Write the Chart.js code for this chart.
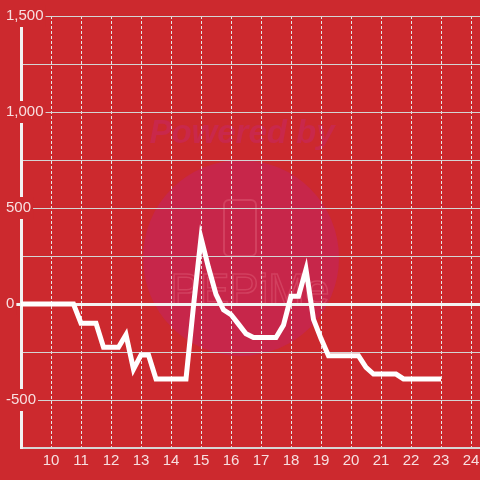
<!DOCTYPE html>
<html>
<head>
<meta charset="utf-8">
<script src="https://cdn.jsdelivr.net/npm/chart.js@4/dist/chart.umd.min.js"></script>
<style>
  html, body { margin: 0; padding: 0; background: #cc292e; }
  #wrap { width: 480px; height: 480px; position: relative; }
</style>
</head>
<body>
<div id="wrap"><canvas id="c"></canvas></div>
<script>
// ---- data ----
const hours = [9, 9.25, 9.5, 9.75, 10, 10.25, 10.5, 10.75, 11, 11.25, 11.5, 11.75,
  12, 12.25, 12.5, 12.75, 13, 13.25, 13.5, 13.75, 14, 14.25, 14.5, 14.75,
  15, 15.25, 15.5, 15.75, 16, 16.25, 16.5, 16.75, 17, 17.25, 17.5, 17.75,
  18, 18.25, 18.5, 18.75, 19, 19.25, 19.5, 19.75, 20, 20.25, 20.5, 20.75,
  21, 21.25, 21.5, 21.75, 22, 22.25, 22.5, 22.75, 23];
const values = [0, 0, 0, 0, 0, 0, 0, 0, -100, -100, -100, -225,
  -225, -225, -160, -340, -265, -265, -390, -390, -390, -390, -390, -10,
  345, 190, 50, -30, -55, -105, -155, -175, -175, -175, -175, -110,
  40, 40, 180, -80, -180, -270, -270, -270, -270, -270, -330, -365,
  -365, -365, -365, -390, -390, -390, -390, -390, -390];
const xTicks = [10, 11, 12, 13, 14, 15, 16, 17, 18, 19, 20, 21, 22, 23, 24];
const yLabelled = [-500, 0, 500, 1000, 1500];
const xMin = 9, xMax = 24.3;
const yMin = -750, yMax = 1500, yStep = 250;

const BG = '#cc292e';
const FONT = "'Liberation Sans', Arial, sans-serif";

const bgPlugin = {
  id: 'bgAndWatermark',
  beforeDraw(chart) {
    const ctx = chart.ctx;
    ctx.save();
    ctx.fillStyle = BG;
    ctx.fillRect(0, 0, chart.width, chart.height);
    // faint watermark
    ctx.fillStyle = '#c7264a';
    ctx.beginPath();
    ctx.arc(241, 258, 98, 0, Math.PI * 2);
    ctx.fill();
    ctx.font = "italic bold 33px " + FONT;
    ctx.fillStyle = '#c9284b';
    ctx.textAlign = 'center';
    ctx.textBaseline = 'alphabetic';
    ctx.fillText('Powered by', 242, 143);
    ctx.strokeStyle = '#d2405f';
    ctx.lineWidth = 2;
    ctx.beginPath();
    if (ctx.roundRect) { ctx.roundRect(224, 200, 32, 56, 5); } else { ctx.rect(224, 200, 32, 56); }
    ctx.stroke();
    ctx.font = "44px " + FONT;
    ctx.lineWidth = 1.5;
    ctx.strokeText('PEPiMe', 250, 305);
    ctx.restore();
  }
};

new Chart(document.getElementById('c'), {
  type: 'line',
  data: {
    datasets: [{
      data: hours.map((h, i) => ({ x: h, y: values[i] })),
      borderColor: '#ffffff',
      borderWidth: 5,
      pointRadius: 0,
      pointHoverRadius: 0,
      tension: 0,
      fill: false
    }]
  },
  options: {
    responsive: true,
    maintainAspectRatio: false,
    animation: false,
    devicePixelRatio: 1,
    layout: { padding: { left: 6, top: 16, right: 0, bottom: 0 } },
    plugins: { legend: { display: false }, tooltip: { enabled: false } },
    scales: {
      x: {
        type: 'linear',
        min: xMin,
        max: xMax,
        afterBuildTicks: (s) => { s.ticks = xTicks.map(v => ({ value: v })); },
        afterFit: (s) => { s.height = 32; s.paddingLeft = 0; s.paddingRight = 0; },
        grid: { color: '#e6e6e6', lineWidth: 1, drawTicks: false },
        border: { display: true, color: '#d6d6d6', width: 2, dash: [3, 2] },
        ticks: {
          color: 'rgba(255,255,255,0.85)',
          font: { family: FONT, size: 15 },
          padding: 4,
          maxRotation: 0,
          autoSkip: false,
          callback: (v) => String(v)
        }
      },
      y: {
        type: 'linear',
        position: 'left',
        min: yMin,
        max: yMax,
        afterFit: (s) => { s.width = 15; s.paddingTop = 0; s.paddingBottom = 0; },
        grid: {
          color: (c) => (c.tick && c.tick.value === 0) ? '#f2f2f2' : '#d4d4d4',
          lineWidth: (c) => (c.tick && c.tick.value === 0) ? 3 : 1,
          drawTicks: true,
          tickLength: 15,
          tickColor: (c) => (c.tick && yLabelled.includes(c.tick.value)) ? ((c.tick.value === 0) ? '#f2f2f2' : '#d4d4d4') : 'rgba(0,0,0,0)',
          tickWidth: (c) => (c.tick && c.tick.value === 0) ? 3 : 1
        },
        border: { display: true, color: '#f2f2f2', width: 3 },
        ticks: {
          stepSize: yStep,
          mirror: true,
          crossAlign: 'near',
          padding: -15,
          color: 'rgba(255,255,255,0.85)',
          font: { family: FONT, size: 15 },
          showLabelBackdrop: true,
          backdropColor: BG,
          backdropPadding: { top: 2, bottom: 2, left: 2, right: 2 },
          callback: (v) => yLabelled.includes(v) ? v.toLocaleString('en-US') : ''
        }
      }
    }
  },
  plugins: [bgPlugin]
});
</script>
</body>
</html>
